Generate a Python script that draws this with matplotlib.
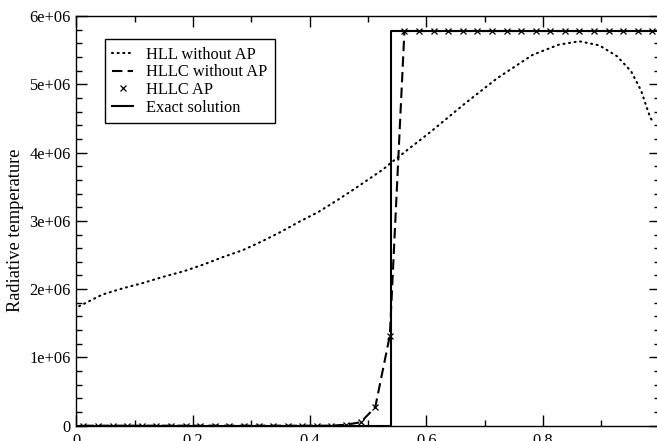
import matplotlib
matplotlib.use("Agg")
import matplotlib.pyplot as plt
from matplotlib.ticker import MultipleLocator, FixedLocator, FixedFormatter

plt.rcParams['font.family'] = ['Liberation Serif', 'DejaVu Serif']

# HLL scheme without asymptotic preservation (dotted)
hll_x = [0.005, 0.0122, 0.0447, 0.079, 0.1145, 0.1488, 0.1836, 0.218, 0.2516,
         0.2853, 0.3184, 0.351, 0.383, 0.415, 0.4452, 0.4756, 0.5047, 0.5253,
         0.5424, 0.5618, 0.6098, 0.665, 0.7217, 0.782, 0.827, 0.862, 0.8965,
         0.927, 0.951, 0.968, 0.983, 0.988]
hll_y = [1.75e6, 1.78e6, 1.92e6, 2.01e6, 2.09e6, 2.18e6, 2.26e6, 2.36e6, 2.47e6,
         2.57e6, 2.70e6, 2.84e6, 2.99e6, 3.13e6, 3.29e6, 3.46e6, 3.63e6, 3.75e6,
         3.87e6, 4.00e6, 4.32e6, 4.71e6, 5.09e6, 5.43e6, 5.58e6, 5.63e6, 5.57e6,
         5.41e6, 5.19e6, 4.91e6, 4.53e6, 4.45e6]

# HLLC cell values (40 cells on [0, 1])
hllc_x = [(i + 0.5) / 40 for i in range(40)]
hllc_y = ([0.0] * 18 + [0.015e6, 0.05e6, 0.27e6, 1.32e6] + [5.78e6] * 18)

# Exact solution: step at the front
exact_x = [0.0, 0.5395, 0.5395, 1.0]
exact_y = [0.0, 0.0, 5.78e6, 5.78e6]

y_ticks = [0, 1e6, 2e6, 3e6, 4e6, 5e6, 6e6]
y_labels = ["0", "1e+06", "2e+06", "3e+06", "4e+06", "5e+06", "6e+06"]
x_ticks = [0.0, 0.2, 0.4, 0.6, 0.8, 1.0]
x_labels = ["0", "0.2", "0.4", "0.6", "0.8", "1"]

W, H = 657, 441
fig = plt.figure(figsize=(W / 100, H / 100), dpi=100)
left, right, top, bottom = 76.2, 659.7, 16.0, 425.7
ax = fig.add_axes([left / W, 1 - bottom / H, (right - left) / W, (bottom - top) / H])

ax.plot(hll_x, hll_y, color='black', linewidth=1.5, linestyle=(0, (0.5, 2.2)),
        dash_capstyle='round', label='HLL without AP')
ax.plot(hllc_x, hllc_y, color='black', linewidth=1.5, linestyle=(0, (5, 2.5)),
        label='HLLC without AP')
ax.plot(hllc_x, hllc_y, color='black', linestyle='none', marker='x',
        markersize=4.0, markeredgewidth=0.9, label='HLLC AP')
ax.plot(exact_x, exact_y, color='black', linewidth=1.5, label='Exact solution')

ax.set_xlim(0, 1)
ax.set_ylim(0, 6e6)

ax.xaxis.set_major_locator(FixedLocator(x_ticks))
ax.xaxis.set_major_formatter(FixedFormatter(x_labels))
ax.xaxis.set_minor_locator(MultipleLocator(0.1))
ax.yaxis.set_major_locator(FixedLocator(y_ticks))
ax.yaxis.set_major_formatter(FixedFormatter(y_labels))
ax.yaxis.set_minor_locator(MultipleLocator(2e5))

ax.tick_params(which='both', direction='in', top=True, right=True,
               width=1.0, labelsize=11.8, colors='black')
ax.tick_params(which='major', length=7.9)
ax.tick_params(which='minor', length=4.1)
ax.tick_params(axis='x', pad=5)
ax.tick_params(axis='y', pad=4)

for s in ax.spines.values():
    s.set_linewidth(1.0)

ax.set_ylabel('Radiative temperature', fontsize=13.2)
ax.yaxis.set_label_coords((24 - left) / (right - left), (bottom - 230) / (bottom - top))

leg = ax.legend(loc='upper left',
                bbox_to_anchor=((105 - left) / (right - left), (bottom - 39.3) / (bottom - top)),
                borderaxespad=0, fontsize=11.8, frameon=True, fancybox=False,
                edgecolor='black', framealpha=1, handlelength=1.25,
                handletextpad=0.8, labelspacing=0.1, borderpad=0.45)
leg.get_frame().set_linewidth(1.0)

fig.savefig('out.png', dpi=100)
